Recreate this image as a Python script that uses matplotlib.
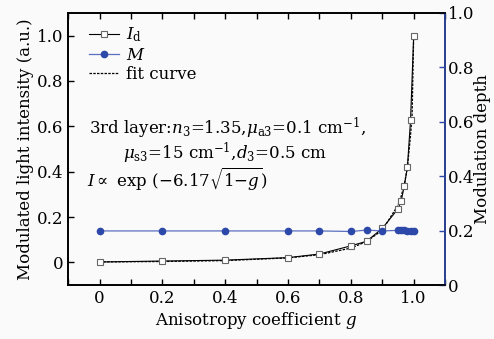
import numpy as np
import matplotlib
matplotlib.use('Agg')
import matplotlib.pyplot as plt
from matplotlib.ticker import MultipleLocator, FuncFormatter

plt.rcParams['font.family'] = 'DejaVu Serif'
plt.rcParams['mathtext.fontset'] = 'dejavuserif'

# values
g = [0, 0.2, 0.4, 0.6, 0.7, 0.8, 0.85, 0.9, 0.95, 0.96, 0.97, 0.98, 0.99, 1.0]
intensity = [0.002, 0.006, 0.010, 0.021, 0.037, 0.073, 0.093, 0.150,
             0.236, 0.270, 0.336, 0.420, 0.627, 1.0]
mod_depth = [0.199, 0.199, 0.199, 0.199, 0.199, 0.197, 0.202, 0.199,
             0.201, 0.201, 0.201, 0.200, 0.200, 0.200]
fit_g = [0, 0.2, 0.4, 0.6, 0.7, 0.8, 0.85, 0.9, 0.95, 0.96, 0.97, 0.98, 0.99, 0.995, 1.0]
fit_curve = [0.002, 0.004, 0.008, 0.020, 0.034, 0.063, 0.092, 0.142,
             0.252, 0.291, 0.343, 0.418, 0.56, 0.65, 1.0]

BLUE = '#2c48a8'

def fmt(v, pos):
    return '0' if abs(v) < 1e-9 else f'{v:.1f}'

fig = plt.figure(figsize=(4.94, 3.39), dpi=100, facecolor='#fafafa')
ax = fig.add_axes([0.138, 0.159, 0.763, 0.803])
ax.set_facecolor('#fafafa')
ax2 = ax.twinx()

l_fit, = ax.plot(fit_g, fit_curve, color='black', linestyle=(0, (2, 1)), linewidth=0.9)
l_id, = ax.plot(g, intensity, color='black', linewidth=0.8, marker='s', markersize=4,
                markerfacecolor='white', markeredgecolor='#666666', markeredgewidth=0.8)
l_m, = ax2.plot(g, mod_depth, color='#5a6fc0', linewidth=0.9, marker='o',
                markersize=4.5, markerfacecolor=BLUE, markeredgecolor=BLUE)

ax.set_xlim(-0.1, 1.1)
ax.set_ylim(-0.1, 1.1)
ax2.set_ylim(0, 1.0)

ax.xaxis.set_major_locator(MultipleLocator(0.2))
ax.xaxis.set_minor_locator(MultipleLocator(0.1))
ax.yaxis.set_major_locator(MultipleLocator(0.2))
ax2.yaxis.set_major_locator(MultipleLocator(0.2))
ax.xaxis.set_major_formatter(FuncFormatter(fmt))
ax.yaxis.set_major_formatter(FuncFormatter(fmt))
ax2.yaxis.set_major_formatter(FuncFormatter(fmt))

ax.tick_params(which='both', direction='in', top=True, right=False, labelsize=12, width=1)
ax.tick_params(which='major', length=4)
ax.tick_params(which='minor', length=4)
ax2.tick_params(direction='in', length=4, labelsize=12, width=1, color=BLUE, pad=2)

for s in ax.spines.values():
    s.set_linewidth(1.2)
for name, s in ax2.spines.items():
    s.set_linewidth(1.2)
ax2.spines['right'].set_color(BLUE)

ax.set_xlabel('Anisotropy coefficient $g$', fontsize=12, labelpad=2)
ax.set_ylabel('Modulated light intensity (a.u.)', fontsize=12, labelpad=2)
ax2.set_ylabel('Modulation depth', fontsize=12, labelpad=0)

ax2.legend([l_id, l_m, l_fit], [r'$I_\mathrm{d}$', r'$M$', 'fit curve'],
           loc='upper left', bbox_to_anchor=(0.03, 0.99), frameon=False, fontsize=12,
           handlelength=1.8, handletextpad=0.4, labelspacing=0.15, borderaxespad=0.2)

# annotation, placed in data units of the left axis
ax.text(-0.035, 0.59, r'3rd layer:$n_3$=1.35,$\mu_{\rm a3}$=0.1 cm$^{-1}$,',
        fontsize=12, va='center', ha='left')
ax.text(0.075, 0.48, r'$\mu_{\rm s3}$=15 cm$^{-1}$,$d_3$=0.5 cm',
        fontsize=12, va='center', ha='left')
ax.text(-0.04, 0.365, r'$I\propto$ exp (−6.17$\sqrt{1{-}g}$)',
        fontsize=12, va='center', ha='left')

fig.savefig('out.png', dpi=100, facecolor=fig.get_facecolor())
